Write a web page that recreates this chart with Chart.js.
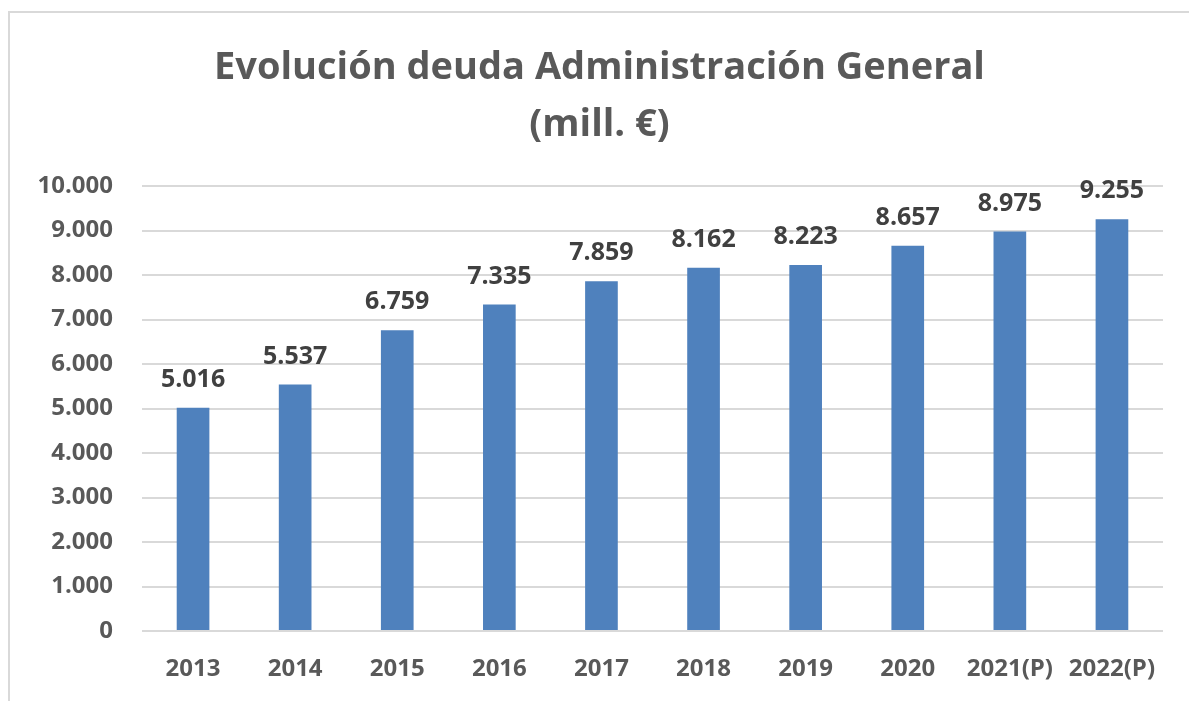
<!DOCTYPE html>
<html>
<head>
<meta charset="utf-8">
<script src="https://cdn.jsdelivr.net/npm/chart.js@4"></script>
<style>
  html, body { margin: 0; padding: 0; background: #fff; }
  #wrap { position: relative; width: 1189px; height: 701px; }
  #frame { position: absolute; left: 8px; top: 11px; right: 0; bottom: 0;
           border-top: 2px solid #d9d9d9; border-left: 2px solid #d9d9d9; }
  canvas { position: absolute; left: 0; top: 0; }
</style>
</head>
<body>
<div id="wrap">
  <div id="frame"></div>
  <canvas id="chart" width="1189" height="701"></canvas>
</div>
<script>
// chart data
const years = ['2013', '2014', '2015', '2016', '2017', '2018', '2019', '2020', '2021(P)', '2022(P)'];
const debt = [5016, 5537, 6759, 7335, 7859, 8162, 8223, 8657, 8975, 9255];
const titleLines = ['Evolución deuda Administración General', '(mill. €)'];

const FONT = '"Open Sans", Lato, sans-serif';

// spanish style thousands separator
function fmt(v) {
    return String(v).replace(/\B(?=(\d{3})+(?!\d))/g, '.');
}

// simple value labels above each bar
const barLabels = {
    id: 'barLabels',
    afterDatasetsDraw(chart) {
        const ctx = chart.ctx;
        const meta = chart.getDatasetMeta(0);
        ctx.save();
        ctx.font = 'bold 25px ' + FONT;
        ctx.fillStyle = '#404040';
        ctx.textAlign = 'center';
        ctx.textBaseline = 'alphabetic';
        meta.data.forEach((bar, i) => {
            ctx.fillText(fmt(debt[i]), bar.x, bar.y - 21);
        });
        ctx.restore();
    }
};

new Chart(document.getElementById('chart'), {
    type: 'bar',
    data: {
        labels: years,
        datasets: [{
            data: debt,
            backgroundColor: '#4f81bd',
            barPercentage: 0.64,
            categoryPercentage: 0.5
        }]
    },
    options: {
        responsive: false,
        animation: false,
        layout: { padding: { left: 36, right: 26, top: 0, bottom: 0 } },
        plugins: {
            legend: { display: false },
            tooltip: { enabled: false },
            title: {
                display: true,
                text: titleLines,
                color: '#595959',
                font: { family: FONT, size: 38, weight: 'bold', lineHeight: 1.5 },
                padding: { top: 40, bottom: 32 }
            }
        },
        scales: {
            x: {
                grid: { display: false, drawTicks: false },
                border: { display: false },
                afterFit: s => { s.height = 70; },
                ticks: {
                    color: '#595959',
                    padding: 24,
                    maxRotation: 0,
                    font: { family: FONT, size: 24, weight: 'bold' }
                }
            },
            y: {
                min: 0,
                max: 10000,
                grid: { color: '#d9d9d9', lineWidth: 2, drawTicks: false },
                border: { display: false },
                afterFit: s => { s.width = 106; },
                ticks: {
                    stepSize: 1000,
                    color: '#595959',
                    padding: 29,
                    font: { family: FONT, size: 24, weight: 'bold' },
                    callback: v => fmt(v)
                }
            }
        }
    },
    plugins: [barLabels]
});
</script>
</body>
</html>
